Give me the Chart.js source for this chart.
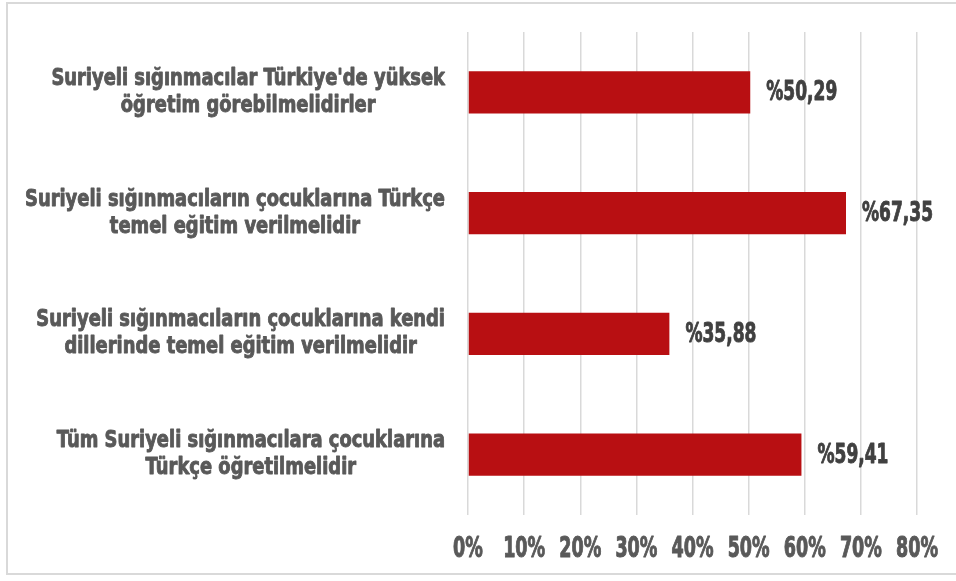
<!DOCTYPE html>
<html>
<head>
<meta charset="utf-8">
<script src="https://cdn.jsdelivr.net/npm/chart.js@4/dist/chart.umd.min.js"></script>
<style>
  html, body { margin: 0; padding: 0; background: #fff; overflow: hidden; }
  #wrap { position: relative; width: 956px; height: 581px; }
  #frame {
    position: absolute; left: 6px; top: 2px; width: 1000px; height: 573px;
    border: 2px solid #d9d9d9; box-sizing: border-box; pointer-events: none;
  }
</style>
</head>
<body>
<div id="wrap">
  <canvas id="chart" width="956" height="581"></canvas>
  <div id="frame"></div>
</div>
<script>
  // kategoriler (satırlara bölünmüş)
  const categories = [
    ["Suriyeli sığınmacılar Türkiye'de yüksek", "öğretim görebilmelidirler"],
    ["Suriyeli sığınmacıların çocuklarına Türkçe", "temel eğitim verilmelidir"],
    ["Suriyeli sığınmacıların çocuklarına kendi", "dillerinde temel eğitim verilmelidir"],
    ["Tüm Suriyeli sığınmacılara çocuklarına", "Türkçe öğretilmelidir"],
  ];
  const values = [50.29, 67.35, 35.88, 59.41];
  const tickMax = 80;
  const tickStep = 10;

  const FONT = "'DejaVu Sans Condensed', 'DejaVu Sans', sans-serif";

  // dar ve kalın yazı (Impact benzeri) için yatay sıkıştırılmış metin
  function narrowText(ctx, txt, x, y, align, sx, weight) {
    const w = ctx.measureText(txt).width * sx;
    let left = x;
    if (align === "center") left = x - w / 2;
    else if (align === "right") left = x - w;
    ctx.save();
    ctx.translate(left, y);
    ctx.scale(sx, 1);
    ctx.textAlign = "left";
    ctx.fillText(txt, 0, 0);
    if (weight) {
      ctx.strokeStyle = ctx.fillStyle;
      ctx.lineWidth = weight;
      ctx.lineJoin = "round";
      ctx.strokeText(txt, 0, 0);
    }
    ctx.restore();
  }

  const categoryLabels = {
    id: "categoryLabels",
    afterDraw(chart) {
      const ctx = chart.ctx;
      const y = chart.scales.y;
      const right = chart.chartArea.left - 23;
      const lineH = 27;
      ctx.save();
      ctx.font = "bold 23px " + FONT;
      ctx.fillStyle = "#595959";
      ctx.textBaseline = "middle";
      const sx = 420 / ctx.measureText(categories[1][0]).width;
      categories.forEach((lines, i) => {
        const w = Math.max(...lines.map(l => ctx.measureText(l).width)) * sx;
        const cx = right - w / 2;
        const cy = y.getPixelForTick(i);
        lines.forEach((l, j) => {
          narrowText(ctx, l, cx, cy + (j - (lines.length - 1) / 2) * lineH, "center", sx, 0.9);
        });
      });
      ctx.restore();
    }
  };

  const axisLabels = {
    id: "axisLabels",
    afterDraw(chart) {
      const ctx = chart.ctx;
      const x = chart.scales.x;
      ctx.save();
      ctx.font = "bold 29px " + FONT;
      ctx.fillStyle = "#595959";
      ctx.textBaseline = "middle";
      const sx = 42 / ctx.measureText("80%").width;
      x.ticks.forEach(t => {
        narrowText(ctx, t.value + "%", x.getPixelForValue(t.value), chart.chartArea.bottom + 34, "center", sx, 1);
      });
      ctx.restore();
    }
  };

  const valueLabels = {
    id: "valueLabels",
    afterDatasetsDraw(chart) {
      const ctx = chart.ctx;
      const meta = chart.getDatasetMeta(0);
      ctx.save();
      ctx.font = "bold 27px " + FONT;
      ctx.fillStyle = "#404040";
      ctx.textBaseline = "middle";
      const sx = 71 / ctx.measureText("%50,29").width;
      meta.data.forEach((bar, i) => {
        const txt = "%" + values[i].toFixed(2).replace(".", ",");
        narrowText(ctx, txt, bar.x + 16, bar.y + 1, "left", sx, 0.9);
      });
      ctx.restore();
    }
  };

  new Chart(document.getElementById("chart"), {
    type: "bar",
    data: {
      labels: categories,
      datasets: [{
        data: values,
        backgroundColor: "#B80F12",
        borderWidth: 0,
        categoryPercentage: 0.35,
        barPercentage: 1,
      }],
    },
    plugins: [categoryLabels, axisLabels, valueLabels],
    options: {
      indexAxis: "y",
      responsive: false,
      animation: false,
      layout: { padding: { top: 32, right: 39, bottom: 0, left: 0 } },
      plugins: { legend: { display: false }, tooltip: { enabled: false } },
      scales: {
        x: {
          min: 0,
          max: tickMax,
          ticks: { stepSize: tickStep, display: false },
          grid: { color: "#d9d9d9", lineWidth: 1.5, drawTicks: false },
          border: { display: false },
          afterFit(scale) { scale.height = 66; },
        },
        y: {
          ticks: { display: false },
          grid: { display: false },
          border: { display: false },
          afterFit(scale) { scale.width = 468; },
        },
      },
    },
  });
</script>
</body>
</html>
